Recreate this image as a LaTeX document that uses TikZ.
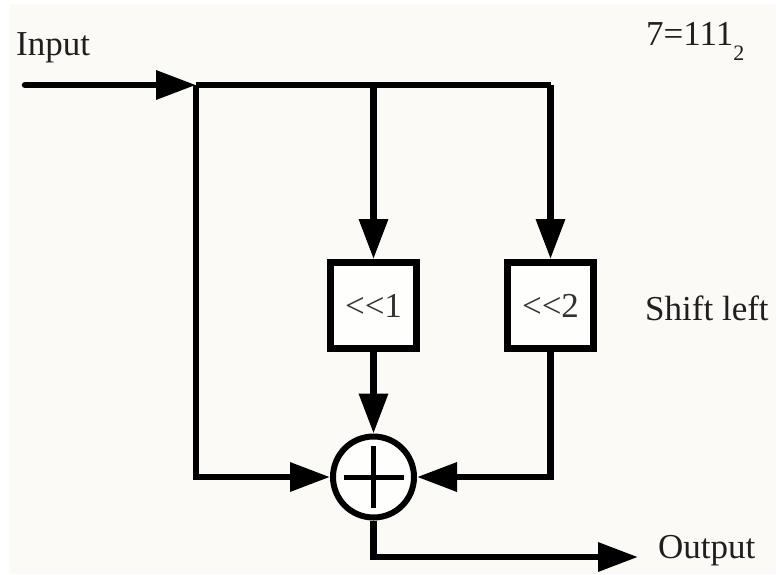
\documentclass[tikz,border=0pt]{standalone}
\usepackage{fontspec}
\setmainfont{Liberation Serif}
\usetikzlibrary{arrows.meta}
\definecolor{bgcream}{HTML}{FCFAF6}
\definecolor{boxfill}{HTML}{FEFEFD}
\begin{document}
\begin{tikzpicture}[x=1pt,y=-1pt,
  wire/.style={line width=6.5pt},
  arr/.style={wire,-{Triangle[length=40pt,width=28pt]}},
  shiftbox/.style={draw,line width=7pt,fill=boxfill,minimum width=86pt,minimum height=86pt,inner sep=0pt,font=\fontsize{35}{40}\selectfont,text=black!80},
  adder/.style={draw,circle,line width=6pt,fill=boxfill,minimum size=81pt,inner sep=0pt},
  lbl/.style={anchor=base west,inner sep=0pt,font=\fontsize{35}{40}\selectfont,text=black!88}]
\useasboundingbox (0,0) rectangle (776,574);
\fill[white] (0,0) rectangle (776,574);
\fill[bgcream] (10,4) rectangle (776,574);
% nodes
\coordinate (in) at (25,85);
\coordinate (j0) at (196,85);
\coordinate (j1) at (373.5,85);
\coordinate (j2) at (550.5,85);
\node[shiftbox] (b1) at (373.5,305.5) {<{}<1};
\node[shiftbox] (b2) at (550.5,305.5) {<{}<2};
\node[adder] (sum) at (373.5,477) {};
\coordinate (out) at (638,557);
% plus sign
\draw[line width=5pt] ([xshift=-30pt]sum.center) -- ([xshift=30pt]sum.center);
\draw[line width=5pt] ([yshift=-31pt]sum.center) -- ([yshift=31pt]sum.center);
% connectors
\draw[arr,line cap=round] (in) -- (j0);
\draw[wire] (j0) -- (j2);
\draw[arr] (j1) -- (b1.north);
\draw[arr] (j2) -- (b2.north);
\draw[arr] (b1.south) -- (sum.north);
\draw[arr] (j0) |- (sum.west);
\draw[arr] (b2.south) |- (sum.east);
\draw[arr] (sum.south) |- (out);
% labels
\node[lbl] (tin) at (16,55) {Input};
\node[lbl] (tnum) at (646,45) {7=111\raisebox{-15pt}{\fontsize{22}{22}\selectfont 2}};
\node[lbl] (tshift) at (645,320) {Shift left};
\node[lbl] (tout) at (658,558) {Output};
\end{tikzpicture}
\end{document}
